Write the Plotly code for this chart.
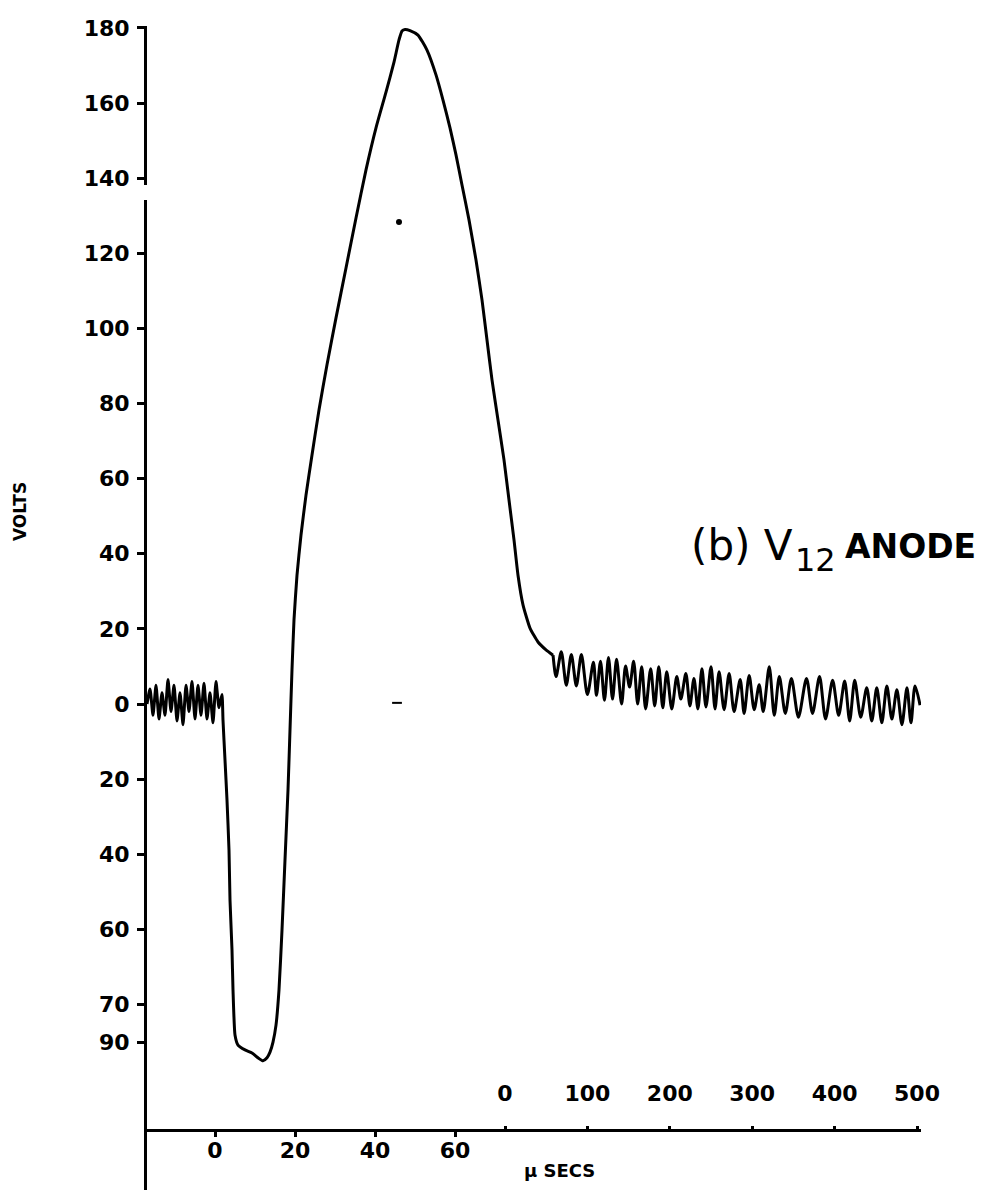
import plotly.graph_objects as go

# ---------------- data ----------------
# fast time-base part of the trace: time in micro-seconds, voltage in volts
pulse_t_us = [-17.0, -16.25, -15.5, -14.75, -14.0, -13.25, -12.5, -11.75, -11.0, -10.25,
              -9.5, -8.75, -8.0, -7.25, -6.5, -5.75, -5.0, -4.25, -3.5, -2.75,
              -2.0, -1.25, -0.5, 0.25, 1.0, 1.75,
              2.0, 2.5, 3.0, 3.5, 3.75, 4.25, 4.5, 5.0, 5.75, 7.5, 9.25, 10.75, 12.0, 13.0,
              13.75, 14.5, 15.25, 16.0, 16.75, 17.5, 18.25, 18.75, 19.25, 19.75, 20.5, 21.5,
              22.75, 24.25, 26.0, 28.0, 30.25, 32.75, 35.25, 37.75, 40.25, 42.75, 44.75, 46.0,
              46.75, 47.5, 48.75, 50.75, 53.0, 55.25, 57.0, 58.75, 60.25, 61.75, 63.5, 65.25,
              66.75, 68.0, 69.25, 70.75, 72.25, 73.5, 74.75, 75.75, 77.0, 78.75, 80.75, 82.75,
              84.5]
pulse_v = [0, 4, -3, 5, -4, 3, -3, 6.5, -2, 5,
           -4.5, 3, -5.5, 5, -2, 6, -4, 5, -3, 5.5,
           -4, 3, -5, 6, -1, 2.5,
           -4.3, -14.9, -25.6, -38.9, -52.2, -65.5, -76.1, -88.1, -90.8, -92.1, -92.9, -94.2, -95.0, -94.2,
           -92.7, -90.0, -85.5, -76.1, -60.2, -41.5, -22.9, -6.9, 9.1, 22.4, 34.3, 45.0,
           55.6, 66.3, 78.3, 90.3, 102.8, 116.1, 129.4, 142.2, 153.4, 162.9, 170.9, 176.8,
           179.2, 179.6, 179.3, 178.1, 174.1, 167.5, 160.8, 153.4, 146.2, 138.2, 128.9, 118.2,
           107.6, 96.9, 86.3, 75.6, 65.0, 54.3, 43.7, 34.3, 26.4, 20.2, 16.5, 14.4,
           13.0]

# slow time-base part of the trace (0-500 micro-second scale)
tail_t_us = [58.3, 62.0, 68.3, 74.4, 80.5, 86.6, 92.7, 100.0, 107.3, 111.0,
             115.9, 120.7, 125.6, 130.5, 135.4, 141.5, 146.3, 151.2, 156.1, 161.0,
             165.9, 170.7, 176.8, 181.7, 186.6, 191.5, 196.3, 202.4, 208.5, 213.4,
             219.5, 224.4, 229.3, 234.1, 239.0, 243.9, 250.0, 254.9, 259.8, 265.9,
             272.0, 278.0, 285.4, 290.2, 296.3, 302.4, 308.5, 313.4, 320.7, 326.8,
             332.9, 340.2, 347.6, 356.1, 365.9, 373.2, 381.7, 389.0, 397.6, 404.9,
             412.2, 418.3, 424.4, 431.7, 439.0, 445.1, 451.2, 457.3, 463.4, 469.5,
             475.6, 481.7, 487.8, 492.7, 497.6, 503.7]
tail_v = [13.0, 7.3, 13.9, 5.0, 13.2, 4.8, 13.2, 2.5, 11.1, 2.3,
          11.4, 1.0, 12.4, 1.3, 11.9, 0.0, 10.1, 4.5, 11.4, 0.0,
          9.9, -1.3, 9.4, -0.5, 9.9, -1.0, 8.6, -1.3, 7.3, 1.3,
          8.1, -0.5, 6.8, -1.3, 9.4, -0.8, 9.9, -1.3, 8.6, -1.5,
          8.1, -2.0, 6.5, -2.5, 7.6, -1.5, 5.1, -2.0, 9.9, -3.0,
          7.3, -2.5, 6.8, -3.5, 6.8, -2.5, 7.3, -4.0, 6.3, -3.0,
          6.1, -4.5, 6.3, -3.5, 4.3, -4.5, 4.3, -5.0, 4.8, -4.0,
          3.8, -5.5, 4.3, -5.0, 4.8, -0.3]

# stray ink marks on the record
dot_t_us = [46.0]
dot_v = [128.3]
dash_t_us = [45.5]
dash_v = [0.3]

# axis tick labels as written on the chart
y_tick_vals = [180, 160, 140, 120, 100, 80, 60, 40, 20, 0, -20, -40, -60, -80, -90]
y_tick_text = ["180", "160", "140", "120", "100", "80", "60", "40", "20", "0",
               "20", "40", "60", "70", "90"]
x_fast_ticks = [0, 20, 40, 60]
x_slow_ticks = [0, 100, 200, 300, 400, 500]

# ---------------- figure ----------------
W, H = 988, 1190
L, R, T, B = 139, 913, 18, 1190
PW, PH = R - L, B - T
# pixel calibration of the hand-drawn scales
FAST0, FAST_PX = 207, 4.0      # x pixel of 0 us, px per us (fast scale)
SLOW0, SLOW_PX = 497, 0.824    # x pixel of 0 us, px per us (slow scale)
V0, V_PX = 696, 3.756          # y pixel of 0 V, px per volt


def px(xp):
    return (xp - L) / PW


def py(yp):
    return (B - yp) / PH


INK = "black"
FONT = "DejaVu Sans"

fig = go.Figure()
fig.add_trace(go.Scatter(x=pulse_t_us, y=pulse_v, xaxis="x", yaxis="y", mode="lines",
                         line=dict(color=INK, width=3, shape="spline", smoothing=0.5),
                         showlegend=False, hoverinfo="skip"))
fig.add_trace(go.Scatter(x=tail_t_us, y=tail_v, xaxis="x2", yaxis="y", mode="lines",
                         line=dict(color=INK, width=3, shape="spline", smoothing=0.8),
                         showlegend=False, hoverinfo="skip"))
fig.add_trace(go.Scatter(x=dot_t_us, y=dot_v, xaxis="x", yaxis="y", mode="markers",
                         marker=dict(color=INK, size=6), showlegend=False, hoverinfo="skip"))
fig.add_trace(go.Scatter(x=dash_t_us, y=dash_v, xaxis="x", yaxis="y", mode="markers",
                         marker=dict(symbol="line-ew", size=7, line=dict(color=INK, width=2)),
                         showlegend=False, hoverinfo="skip"))

axis_y_pos = py(1122)
tickfont = dict(family=FONT, size=22, color=INK, weight="bold")

fig.update_layout(
    width=W, height=H, autosize=False,
    margin=dict(l=L, r=W - R, t=T, b=H - B, pad=0),
    paper_bgcolor="white", plot_bgcolor="white",
    showlegend=False,
    xaxis=dict(range=[(L - FAST0) / FAST_PX, (R - FAST0) / FAST_PX], anchor="free",
               position=axis_y_pos, showline=True, linecolor=INK, linewidth=2.5,
               showgrid=False, zeroline=False, tickmode="array", tickvals=x_fast_ticks,
               ticks="outside", ticklen=5, tickwidth=3, tickcolor=INK, tickfont=tickfont,
               ticklabelstandoff=-5),
    xaxis2=dict(range=[(L - SLOW0) / SLOW_PX, (R - SLOW0) / SLOW_PX], overlaying="x",
                anchor="free", position=axis_y_pos, side="top", showline=False,
                showgrid=False, zeroline=False, tickmode="array", tickvals=x_slow_ticks,
                ticks="outside", ticklen=4, tickwidth=3, tickcolor=INK, tickfont=tickfont,
                ticklabelstandoff=16),
    yaxis=dict(range=[(V0 - B) / V_PX, (V0 - T) / V_PX], showline=True, linecolor=INK,
               linewidth=3, showgrid=False, zeroline=False, tickmode="array",
               tickvals=y_tick_vals, ticktext=y_tick_text, ticks="outside", ticklen=7,
               tickwidth=3, tickcolor=INK, tickfont=tickfont, ticklabelstandoff=3),
)

# small break in the hand-drawn vertical axis
fig.add_shape(type="rect", xref="paper", yref="y", x0=-0.006, x1=0.006,
              y0=(V0 - 192) / V_PX, y1=(V0 - 177) / V_PX,
              fillcolor="white", line=dict(width=0), layer="above")

anns = [
    dict(text="VOLTS", x=px(12), y=py(504), textangle=-90, xanchor="center", yanchor="middle",
         font=dict(family=FONT, size=17, color=INK, weight="bold")),
    dict(text="(b) V", x=px(681), y=py(537), xanchor="left", yanchor="middle",
         font=dict(family=FONT, size=42, color=INK)),
    dict(text="12", x=px(785), y=py(552), xanchor="left", yanchor="middle",
         font=dict(family=FONT, size=32, color=INK)),
    dict(text="ANODE", x=px(835), y=py(538), xanchor="left", yanchor="middle",
         font=dict(family=FONT, size=33, color=INK, weight="bold")),
    dict(text="μ SECS", x=px(514), y=py(1162), xanchor="left", yanchor="middle",
         font=dict(family=FONT, size=18, color=INK, weight="bold")),
]
for a in anns:
    fig.add_annotation(xref="paper", yref="paper", showarrow=False, **a)

fig.write_html("out.html")
